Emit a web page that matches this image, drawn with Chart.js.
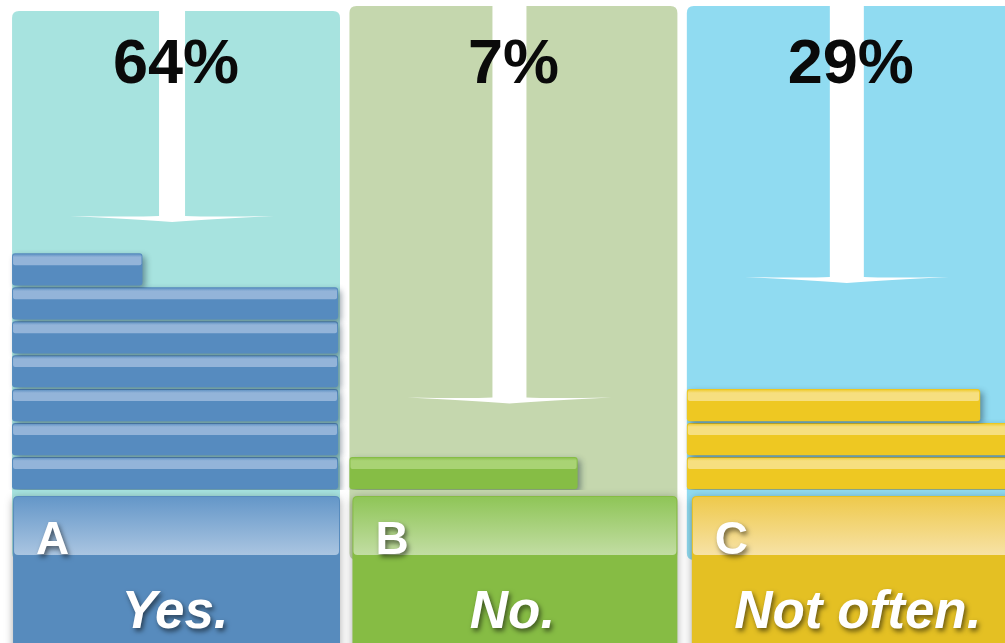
<!DOCTYPE html>
<html>
<head>
<meta charset="utf-8">
<script src="https://cdn.jsdelivr.net/npm/chart.js@4/dist/chart.umd.min.js"></script>
<style>
  html, body { margin: 0; padding: 0; background: #fff; }
  #poll { display: block; }
</style>
</head>
<body>
<canvas id="poll" width="1005" height="643"></canvas>
<script>
// poll results: one stack of blocks per answer, each full block = 10%
const categories = ['A', 'B', 'C'];
const answers = ['Yes.', 'No.', 'Not often.'];
const percents = [64, 7, 29];
const arrowTips = [7.9, 2.55, 6.1]; // arrow ends, in block levels above the base
const levels = ['1', '2', '3', '4', '5', '6', '7', '8', '9', '10', '11', '12', '13', '14'];

const BLOCK = 10;          // percent per block
const PANEL_STEP = 10.35;  // horizontal distance between panels (x units)
const PANEL_WIDTH = 10.06;

const palette = [
  { panel: '#a7e3df', bar: '#568bbf', gloss: '#93b4d9', boxTop: '#6396c8', boxLight: '#aac5e1', box: '#578bbd', top: 11, shaft: 26 },
  { panel: '#c5d7ae', bar: '#86bd45', gloss: '#a9d374', boxTop: '#8ec556', boxLight: '#c2dda3', box: '#86bc44', top: 6, shaft: 34 },
  { panel: '#90dbf1', bar: '#eec822', gloss: '#f6df80', boxTop: '#eec94a', boxLight: '#f7e2a6', box: '#e4c023', top: 6, shaft: 34 }
];

// floating bar ranges per level for one answer
function blocksFor(p, i) {
  const start = i * PANEL_STEP;
  const full = Math.floor(p / BLOCK);
  const rest = p % BLOCK;
  return levels.map((_, k) => {
    if (k < full) return [start, start + BLOCK];
    if (k === full && rest > 0) return [start, start + rest];
    return null;
  });
}

const datasets = categories.map((c, i) => ({
  label: c,
  data: blocksFor(percents[i], i),
  backgroundColor: palette[i].bar,
  borderRadius: 3,
  borderSkipped: false,
  grouped: false,
  barPercentage: 1,
  categoryPercentage: 0.95
}));

function roundRect(ctx, x, y, w, h, r) {
  ctx.beginPath();
  ctx.moveTo(x + r, y);
  ctx.lineTo(x + w - r, y);
  ctx.quadraticCurveTo(x + w, y, x + w, y + r);
  ctx.lineTo(x + w, y + h - r);
  ctx.quadraticCurveTo(x + w, y + h, x + w - r, y + h);
  ctx.lineTo(x + r, y + h);
  ctx.quadraticCurveTo(x, y + h, x, y + h - r);
  ctx.lineTo(x, y + r);
  ctx.quadraticCurveTo(x, y, x + r, y);
  ctx.closePath();
}

const panelsPlugin = {
  id: 'panels',
  beforeDatasetsDraw(chart) {
    const { ctx, scales: { x, y } } = chart;
    ctx.save();
    categories.forEach((c, i) => {
      const p = palette[i];
      const left = x.getPixelForValue(i * PANEL_STEP);
      const right = x.getPixelForValue(i * PANEL_STEP + PANEL_WIDTH);
      ctx.fillStyle = p.panel;
      roundRect(ctx, left, p.top, right - left, 560 - p.top, 7);
      ctx.fill();

      // white arrow pointing at the top of the stack
      const cx = x.getPixelForValue(i * PANEL_STEP + BLOCK / 2) - 3;
      const tip = y.getPixelForValue(arrowTips[i] - 0.5);
      const hw = p.shaft / 2;
      ctx.fillStyle = '#ffffff';
      ctx.fillRect(cx - hw, p.top, p.shaft, tip - 5 - p.top);
      ctx.beginPath();
      ctx.moveTo(cx - 102, tip - 6);
      ctx.quadraticCurveTo(cx - 40, tip - 5, cx - hw, tip - 6);
      ctx.lineTo(cx + hw, tip - 6);
      ctx.quadraticCurveTo(cx + 40, tip - 5, cx + 102, tip - 6);
      ctx.quadraticCurveTo(cx + 40, tip - 3, cx, tip);
      ctx.quadraticCurveTo(cx - 40, tip - 3, cx - 102, tip - 6);
      ctx.closePath();
      ctx.fill();

      // percentage
      ctx.fillStyle = '#0a0a0a';
      ctx.font = 'bold 63px "Liberation Sans", Arial, sans-serif';
      ctx.textAlign = 'center';
      ctx.textBaseline = 'alphabetic';
      ctx.fillText(percents[i] + '%', cx + 4, 83);
    });
    ctx.restore();
  },
  beforeDatasetDraw(chart) {
    const ctx = chart.ctx;
    ctx.save();
    ctx.shadowColor = 'rgba(20, 40, 60, 0.45)';
    ctx.shadowBlur = 6;
    ctx.shadowOffsetX = 3;
    ctx.shadowOffsetY = 3;
  },
  afterDatasetDraw(chart, args) {
    const ctx = chart.ctx;
    ctx.restore();
    // glossy stripe along the top of each block
    const i = args.index;
    const meta = chart.getDatasetMeta(i);
    ctx.save();
    meta.data.forEach((bar, k) => {
      if (!chart.data.datasets[i].data[k]) return;
      const { x, y, base, height } = bar.getProps(['x', 'y', 'base', 'height'], true);
      const top = y - height / 2;
      const sh = height * 0.34;
      const g = ctx.createLinearGradient(0, top, 0, top + sh);
      g.addColorStop(0, palette[i].bar);
      g.addColorStop(0.35, palette[i].gloss);
      g.addColorStop(1, palette[i].gloss);
      ctx.fillStyle = g;
      roundRect(ctx, base + 1, top + 1, x - base - 2, sh, 2);
      ctx.fill();
    });
    ctx.restore();
  },
  afterDatasetsDraw(chart) {
    const { ctx, scales: { x } } = chart;
    const top = chart.chartArea.bottom + 6;
    ctx.save();
    categories.forEach((c, i) => {
      const p = palette[i];
      const left = x.getPixelForValue(i * PANEL_STEP) + 1 + i * 2;
      const right = x.getPixelForValue(i * PANEL_STEP + PANEL_WIDTH);
      const w = right - left;

      ctx.save();
      ctx.shadowColor = 'rgba(0, 0, 0, 0.35)';
      ctx.shadowBlur = 8;
      ctx.shadowOffsetY = 2;
      ctx.fillStyle = p.box;
      roundRect(ctx, left, top, w, 200, 5);
      ctx.fill();
      ctx.restore();

      const g = ctx.createLinearGradient(0, top, 0, top + 59);
      g.addColorStop(0, p.boxTop);
      g.addColorStop(1, p.boxLight);
      ctx.fillStyle = g;
      roundRect(ctx, left + 1, top + 1, w - 2, 58, 4);
      ctx.fill();

      ctx.save();
      ctx.shadowColor = 'rgba(0, 0, 0, 0.55)';
      ctx.shadowBlur = 5;
      ctx.shadowOffsetX = 2;
      ctx.shadowOffsetY = 3;
      ctx.fillStyle = '#ffffff';
      ctx.textAlign = 'left';
      ctx.font = 'bold 46px "Liberation Sans", Arial, sans-serif';
      ctx.fillText(c, left + 23, top + 58);
      ctx.textAlign = 'center';
      ctx.font = 'italic bold 53px "Liberation Sans", Arial, sans-serif';
      const cx = x.getPixelForValue(i * PANEL_STEP + BLOCK / 2) + (i === 2 ? 8 : 0);
      ctx.fillText(answers[i], cx, top + 132);
      ctx.restore();
    });
    ctx.restore();
  }
};

new Chart(document.getElementById('poll'), {
  type: 'bar',
  data: { labels: levels, datasets },
  options: {
    indexAxis: 'y',
    responsive: false,
    animation: false,
    devicePixelRatio: 1,
    layout: { padding: { top: 15, bottom: 153, left: 0, right: 0 } },
    scales: {
      x: { type: 'linear', min: -0.37, max: 30.46, display: false },
      y: { type: 'category', reverse: true, display: false }
    },
    plugins: {
      legend: { display: false },
      tooltip: { enabled: false }
    }
  },
  plugins: [panelsPlugin]
});
</script>
</body>
</html>
